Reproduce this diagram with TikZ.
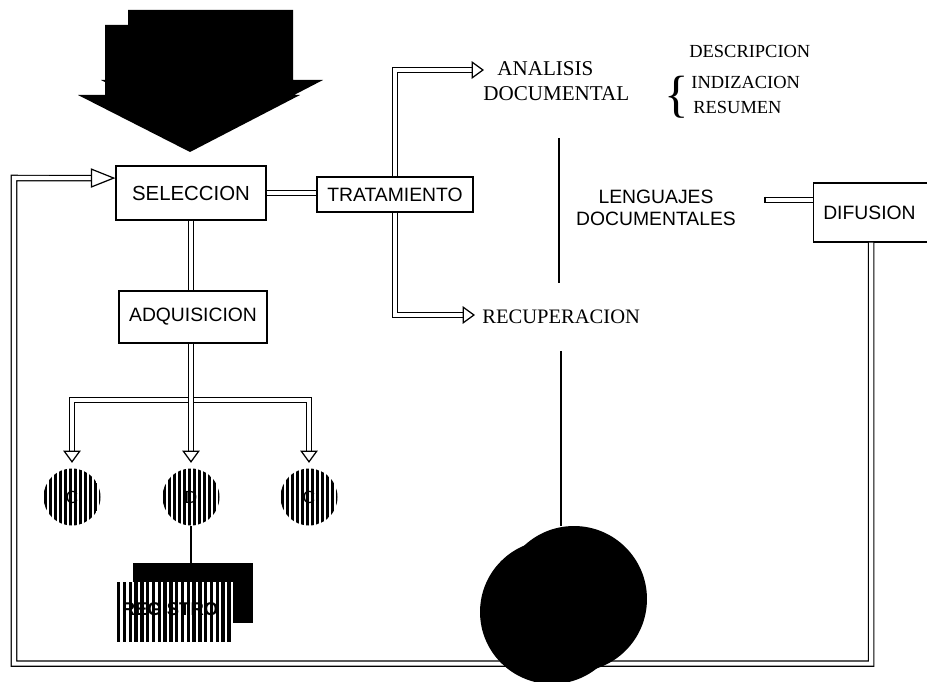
\documentclass[tikz,border=0pt]{standalone}
\usepackage{fontspec}
\setmainfont{Liberation Serif}
\setsansfont{Liberation Sans}
\usetikzlibrary{arrows.meta}

\tikzset{
  box/.style={draw, fill=white, line width=0.7pt, inner sep=0pt, font=\sffamily\fontsize{11}{13}\selectfont},
  dbl/.style={line width=0.7pt, double=white, double distance=2.3pt},
  hollow/.style={-{Triangle[open, length=7pt, width=10pt]}},
  serif/.style={font=\rmfamily\fontsize{12}{14.2}\selectfont, inner sep=0pt},
  small/.style={font=\rmfamily\fontsize{10.5}{12}\selectfont, inner sep=0pt, anchor=west},
}

\begin{document}
\begin{tikzpicture}[x=0.02cm, y=-0.02cm]
\useasboundingbox (0,0) rectangle (927,682);
\clip (0,0) rectangle (927,682);

% big black arrow and its shadow
\fill[nonzero rule] (128,10) -- (293,10) -- (293,80) -- (323,80) -- (213,137) -- (101,80) -- (128,80) -- cycle
  (105,25) -- (270,25) -- (270,95) -- (300,95) -- (190,152) -- (78,95) -- (105,95) -- cycle;

% striped circles
\foreach \cx in {72,191,309} {
  \begin{scope}
    \clip (\cx,497) circle[radius=28.5];
    \foreach \s in {0,...,11} \fill (\cx-28+\s*5,460) rectangle ++(3,80);
  \end{scope}
}
\node[circle, minimum size=1.14cm, inner sep=0pt, font=\sffamily\fontsize{10}{12}\selectfont] (c1) at (72,497) {C};
\node[circle, minimum size=1.14cm, inner sep=0pt, font=\sffamily\fontsize{10}{12}\selectfont] (c2) at (191,497) {D};
\node[circle, minimum size=1.14cm, inner sep=0pt, font=\sffamily\fontsize{10}{12}\selectfont] (c3) at (309,497) {C};

% registro
\node[fill=black, minimum width=2.4cm, minimum height=1.2cm, inner sep=0pt] (regback) at (193,593) {};
\fill[white] (117,582) rectangle (233,641);
\begin{scope}
  \clip (117,582) rectangle (233,641);
  \foreach \s in {0,...,19} \fill (117+\s*5.8,575) rectangle ++(3.4,75);
\end{scope}
\node[font=\sffamily\bfseries\fontsize{10.5}{12}\selectfont] (reg) at (170,609) {REGISTRO};
\draw[line width=1.2pt] (c2.south) -- (c2.south |- regback.north);

% boxes
\node[box, font=\sffamily\fontsize{11.6}{13}\selectfont, minimum width=3cm, minimum height=1.08cm] (sel) at (191,193) {SELECCION};
\node[box, minimum width=3.12cm, minimum height=0.7cm] (trat) at (395,194.5) {TRATAMIENTO};
\node[box, minimum width=2.96cm, minimum height=1.04cm] (adq) at (193,317) {ADQUISICION};
\node[box, anchor=west, inner xsep=5.5pt, text width=2.2cm, align=left, minimum height=1.18cm] (dif) at (813,212.5) {DIFUSION};

% texts
\node[serif, anchor=west, align=left] (ana) at (483,81.5) {\hspace*{8pt}ANALISIS\\DOCUMENTAL};
\node[serif, anchor=west, font=\rmfamily\fontsize{11.7}{14}\selectfont] (recup) at (482,317) {RECUPERACION};
\node[align=center, font=\sffamily\fontsize{11}{12.5}\selectfont] (len) at (656,208) {LENGUAJES\\DOCUMENTALES};
\node[small] (desc) at (689,51) {DESCRIPCION};
\node[small] (ind) at (691,82) {INDIZACION};
\node[small] (res) at (693,107) {RESUMEN};
\node[font=\rmfamily\fontsize{29}{29}\selectfont, inner sep=0pt] (brace) at (677,97) {\{};

% connectors
\coordinate (anatip) at (484,70);
\coordinate (rectip) at (475,315);
\draw[dbl] (sel.east) -- (sel.east -| trat.west);
\draw[dbl, hollow] (trat.north) |- (anatip);
\draw[dbl, hollow] (trat.south) |- (rectip);
\draw[dbl] (sel.south) -- (sel.south |- adq.north);
\coordinate (fork) at (191,400);
\draw[dbl, hollow] (fork) -| ([yshift=3pt]c1.north);
\draw[dbl, hollow] (fork) -| ([yshift=3pt]c3.north);
\draw[dbl, hollow] (fork |- adq.south) -- ([yshift=3pt]c2.north);
\coordinate (stub) at (765,200);
\draw[dbl] (stub) -- (stub -| dif.west);
\draw[line width=0.7pt] ([yshift=1.85pt]stub) -- ([yshift=-1.85pt]stub);
\draw[dbl, -{Triangle[open, length=14pt, width=11pt]}] ([xshift=-4pt]dif.south) -- ++(0,421) -| (14,178) -- ([yshift=8.5pt]sel.west);

% lines and discs
\draw[line width=1.4pt] (559,138) -- (559,283);
\node[circle, fill=black, minimum size=2.92cm, inner sep=0pt] (discback) at (574,599) {};
\node[circle, fill=black, minimum size=2.88cm, inner sep=0pt] (disc) at (552,612) {};
\coordinate (lentail) at (561,351);
\draw[line width=1.4pt] (lentail) -- (lentail |- discback.north);
\end{tikzpicture}
\end{document}
